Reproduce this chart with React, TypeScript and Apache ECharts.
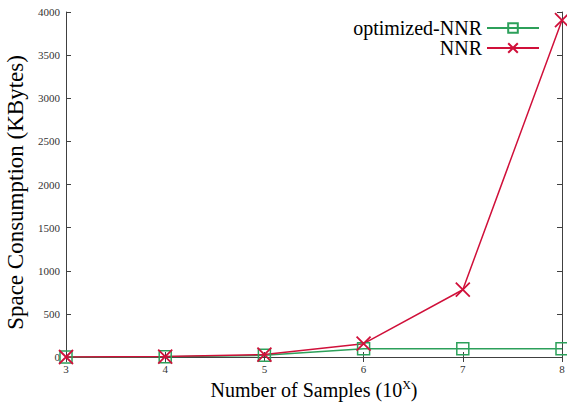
import React, { useEffect, useRef } from "react";
import * as echarts from "echarts";

const xValues = [3, 4, 5, 6, 7, 8];
const optimizedNNR = [0, 2, 20, 95, 95, 95];
const nnr = [0, 5, 28, 155, 780, 3905];
const seriesNames = ["optimized-NNR", "NNR"];

const GREEN = "#2ca05a";
const RED = "#d0103a";
const FONT = "'Liberation Serif', 'Times New Roman', serif";

export default function App() {
  const ref = useRef<HTMLDivElement>(null);
  useEffect(() => {
    if (!ref.current) return;
    const chart = echarts.init(ref.current, null, { renderer: "svg" });
    const axisLine = { show: true, lineStyle: { color: "#404040", width: 1 } };
    const tick = { show: true, inside: true, length: 5, lineStyle: { color: "#404040" } };
    const tickLabel = { fontFamily: FONT, fontSize: 11, color: "#333", margin: 6, formatter: (v: number) => String(v) };
    chart.setOption({
      animation: false,
      backgroundColor: "#ffffff",
      grid: { left: 66, right: 5, top: 12, bottom: 46, outerBoundsMode: "none", containLabel: false },
      legend: {
        orient: "vertical",
        right: 22,
        top: 13,
        align: "right",
        itemWidth: 52,
        itemHeight: 12,
        itemGap: 0,
        data: seriesNames,
        textStyle: { fontFamily: FONT, fontSize: 20, lineHeight: 20, color: "#000" },
      },
      xAxis: [
        {
          type: "value",
          min: 3,
          max: 8,
          interval: 1,
          name: "Number of Samples (10{sup|X})",
          nameLocation: "middle",
          nameGap: 20,
          nameTextStyle: {
            fontFamily: FONT,
            fontSize: 20,
            color: "#000",
            rich: { sup: { fontFamily: FONT, fontSize: 12, verticalAlign: "top", padding: [0, 0, 10, 0] } },
          },
          axisLine,
          axisTick: tick,
          axisLabel: tickLabel,
          splitLine: { show: false },
        },
        {
          type: "value",
          position: "top",
          min: 3,
          max: 8,
          interval: 1,
          axisLine,
          axisTick: tick,
          axisLabel: { show: false },
          splitLine: { show: false },
        },
      ],
      yAxis: [
        {
          type: "value",
          min: 0,
          max: 4000,
          interval: 500,
          name: "Space Consumption (KBytes)",
          nameLocation: "middle",
          nameGap: 38,
          nameTextStyle: { fontFamily: FONT, fontSize: 23, color: "#000", padding: [0, 16, 0, 0] },
          axisLine,
          axisTick: tick,
          axisLabel: tickLabel,
          splitLine: { show: false },
        },
        {
          type: "value",
          position: "right",
          min: 0,
          max: 4000,
          interval: 500,
          axisLine,
          axisTick: tick,
          axisLabel: { show: false },
          splitLine: { show: false },
        },
      ],
      series: [
        {
          name: seriesNames[0],
          type: "line",
          data: xValues.map((x, i) => [x, optimizedNNR[i]]),
          symbol: "rect",
          symbolSize: 12,
          showAllSymbol: true,
          lineStyle: { color: GREEN, width: 1.5 },
          itemStyle: { color: "rgba(0,0,0,0)", borderColor: GREEN, borderWidth: 1.5 },
          emphasis: { disabled: true },
        },
        {
          name: seriesNames[1],
          type: "line",
          data: xValues.map((x, i) => [x, nnr[i]]),
          symbol: "path://M0,0L10,10M10,0L0,10",
          symbolSize: 14,
          showAllSymbol: true,
          lineStyle: { color: RED, width: 1.5 },
          itemStyle: { color: RED, borderColor: RED, borderWidth: 1.8 },
          emphasis: { disabled: true },
        },
      ],
    });
    return () => chart.dispose();
  }, []);
  return <div ref={ref} style={{ width: 567, height: 403, position: "absolute", left: 0, top: 0 }} />;
}
